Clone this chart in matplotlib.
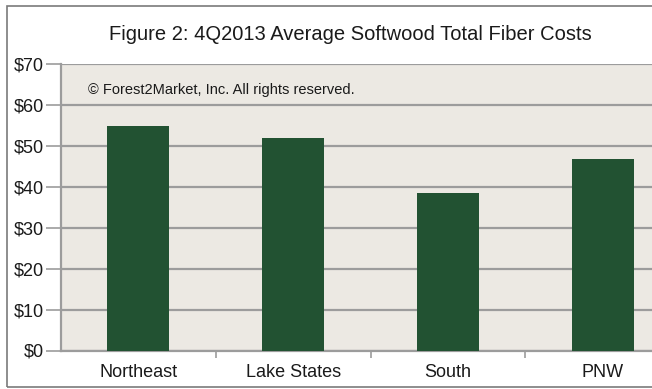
import matplotlib
matplotlib.use("Agg")
import matplotlib.pyplot as plt
from matplotlib.patches import Rectangle
from matplotlib.ticker import FixedLocator, FuncFormatter

plt.rcParams['font.family'] = ['Liberation Sans', 'DejaVu Sans']

categories = ["Northeast", "Lake States", "South", "PNW"]
costs = [54.9, 51.8, 38.6, 46.9]
y_ticks = [0, 10, 20, 30, 40, 50, 60, 70]
title = "Figure 2: 4Q2013 Average Softwood Total Fiber Costs"
note = "\u00a9 Forest2Market, Inc. All rights reserved."

W, H = 652, 389
fig = plt.figure(figsize=(W / 100, H / 100), dpi=100)
fig.patch.set_facecolor("white")

# outer frame
fig.patches.append(Rectangle((7 / W, 2 / H), 1.2, (H - 8) / H, transform=fig.transFigure,
                             fill=False, edgecolor="#7a7a7a", linewidth=1.2))

ax = fig.add_axes([61 / W, (H - 350.5) / H, 619 / W, (350.5 - 64) / H])
ax.set_facecolor("#ECE9E3")

x = list(range(len(categories)))
ax.bar(x, costs, width=0.4, color="#225232", zorder=3)

ax.set_xlim(-0.5, len(categories) - 0.5)
ax.set_ylim(0, 70)
ax.set_yticks(y_ticks)
ax.yaxis.set_major_formatter(FuncFormatter(lambda v, p: f"${int(v)}"))
ax.yaxis.grid(True, color="#9c9c9c", linewidth=1.6, zorder=1)
ax.tick_params(axis="y", length=11, width=1.2, color="#9c9c9c", labelsize=13, pad=1.5,
               labelcolor="#1a1a1a")

ax.set_xticks(x)
ax.set_xticklabels(categories)
ax.tick_params(axis="x", which="major", length=0, labelsize=13, pad=10, labelcolor="#1a1a1a")
ax.xaxis.set_minor_locator(FixedLocator([i + 0.5 for i in range(len(categories))]))
ax.tick_params(axis="x", which="minor", length=5, width=1.2, color="#9c9c9c")

for s in ["top", "right"]:
    ax.spines[s].set_visible(False)
for s in ["left", "bottom"]:
    ax.spines[s].set_color("#9c9c9c")
    ax.spines[s].set_linewidth(1.6)

fig.text(350 / W, 1 - 34 / H, title, ha="center", va="center", fontsize=14.5, color="#1a1a1a")
ax.text(88 / W, 1 - 90 / H, note, transform=fig.transFigure, ha="left", va="center",
        fontsize=10.5, color="#1a1a1a", zorder=5)

fig.savefig("out.png", dpi=100, facecolor="white")
